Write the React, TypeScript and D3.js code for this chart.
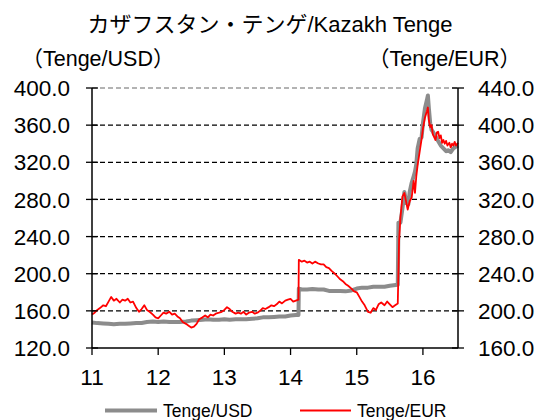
import React from "react";
import * as d3 from "d3";

const titleText = "カザフスタン・テンゲ/Kazakh Tenge";
const leftUnit = "（Tenge/USD）";
const rightUnit = "（Tenge/EUR）";
const xTickValues = [2011, 2012, 2013, 2014, 2015, 2016];
const xTickLabels = ["11", "12", "13", "14", "15", "16"];
const leftTicks = [120, 160, 200, 240, 280, 320, 360, 400];
const rightTicks = [160, 200, 240, 280, 320, 360, 400, 440];
const seriesNames = ["Tenge/USD", "Tenge/EUR"];

const usdDates = [
  2011.0, 2011.08, 2011.17, 2011.25, 2011.33, 2011.42, 2011.5, 2011.58, 2011.67, 2011.75, 2011.83, 2011.92,
  2012.0, 2012.08, 2012.17, 2012.25, 2012.33, 2012.42, 2012.5, 2012.58, 2012.67, 2012.75, 2012.83, 2012.92,
  2013.0, 2013.08, 2013.17, 2013.25, 2013.33, 2013.42, 2013.5, 2013.58, 2013.67, 2013.75, 2013.83, 2013.92,
  2014.0, 2014.08, 2014.12, 2014.125, 2014.17, 2014.25, 2014.33, 2014.42, 2014.5, 2014.58, 2014.67, 2014.75,
  2014.83, 2014.92, 2015.0, 2015.08, 2015.17, 2015.25, 2015.33, 2015.42, 2015.5, 2015.62, 2015.63, 2015.66,
  2015.69, 2015.72, 2015.75, 2015.78, 2015.8, 2015.83, 2015.86, 2015.88, 2015.9, 2015.92, 2015.95, 2015.98,
  2016.0, 2016.03, 2016.06, 2016.075, 2016.09, 2016.11, 2016.13, 2016.15, 2016.19, 2016.23, 2016.27, 2016.31,
  2016.35, 2016.38, 2016.42, 2016.46, 2016.5, 2016.53,
];
const usdValues = [
  147.5, 146.8, 146.5, 146, 145.5, 146, 146, 146.5, 147, 147, 148, 148.5,
  148, 148.5, 148, 148, 148, 148.5, 149.5, 150, 150.5, 151, 150.5, 150.5,
  151, 150.5, 151, 151, 151, 151.5, 152, 153, 153, 153.5, 154, 154,
  155, 155.5, 155.5, 184, 183, 183, 183.5, 183, 183, 181.5, 181.5, 181.5,
  181, 182, 184, 185, 185, 186, 186, 186, 187, 188, 255, 255,
  270, 288, 276, 275, 288, 298, 305, 310, 318, 335, 345, 347,
  362, 378, 387, 392, 378, 362, 355, 353, 348, 343, 338, 335,
  332, 333, 331, 335, 337, 338,
];

const eurDates = [
  2011.0, 2011.04, 2011.08, 2011.12, 2011.17, 2011.21, 2011.25, 2011.29, 2011.33, 2011.37, 2011.42, 2011.46,
  2011.5, 2011.54, 2011.58, 2011.62, 2011.67, 2011.71, 2011.75, 2011.79, 2011.83, 2011.87, 2011.92, 2011.96,
  2012.0, 2012.04, 2012.08, 2012.12, 2012.17, 2012.21, 2012.25, 2012.29, 2012.33, 2012.37, 2012.42, 2012.46,
  2012.5, 2012.54, 2012.58, 2012.62, 2012.67, 2012.71, 2012.75, 2012.79, 2012.83, 2012.87, 2012.92, 2012.96,
  2013.0, 2013.04, 2013.08, 2013.12, 2013.17, 2013.21, 2013.25, 2013.29, 2013.33, 2013.37, 2013.42, 2013.46,
  2013.5, 2013.54, 2013.58, 2013.62, 2013.67, 2013.71, 2013.75, 2013.79, 2013.83, 2013.87, 2013.92, 2013.96,
  2014.0, 2014.04, 2014.08, 2014.12, 2014.125, 2014.17, 2014.21, 2014.25, 2014.29, 2014.33, 2014.37, 2014.42,
  2014.46, 2014.5, 2014.54, 2014.58, 2014.62, 2014.67, 2014.71, 2014.75, 2014.79, 2014.83, 2014.87, 2014.92,
  2014.96, 2015.0, 2015.04, 2015.08, 2015.12, 2015.17, 2015.21, 2015.25, 2015.29, 2015.33, 2015.37, 2015.42,
  2015.46, 2015.5, 2015.54, 2015.58, 2015.62, 2015.64, 2015.66, 2015.69, 2015.72, 2015.75, 2015.77, 2015.8,
  2015.83, 2015.86, 2015.88, 2015.9, 2015.92, 2015.95, 2015.98, 2016.0, 2016.03, 2016.06, 2016.075, 2016.09,
  2016.11, 2016.13, 2016.15, 2016.17, 2016.19, 2016.21, 2016.23, 2016.25, 2016.27, 2016.29, 2016.31, 2016.33,
  2016.35, 2016.37, 2016.4, 2016.42, 2016.44, 2016.46, 2016.48, 2016.5, 2016.53,
];
const eurValues = [
  196, 198, 201, 203, 206, 205, 210, 215, 211, 213, 209, 212,
  211, 213, 209, 210, 203, 199, 202, 206, 201, 199, 196, 193,
  192, 195, 198, 197, 199, 196, 197, 194, 192, 188, 186, 184,
  182, 183, 186, 191, 193, 195, 193, 196, 195, 197, 198, 199,
  201, 204, 202, 199, 197, 198, 197, 199, 196, 198, 199, 197,
  198, 200, 203, 202, 204, 206, 205, 207, 210, 208, 211, 212,
  213, 210, 211, 212, 255, 253, 254, 252, 253, 251, 253, 251,
  250, 250, 247, 246, 243, 240, 237, 234, 232, 229, 227, 224,
  221, 220, 215, 210, 206, 199, 198, 203, 201, 207, 209, 206,
  210, 207, 204, 206, 208, 276, 300, 323, 327, 316, 309, 318,
  322, 340, 327, 345, 357, 371, 385, 396, 408, 415, 419, 405,
  398, 400, 390, 387, 384, 392, 393, 386, 389, 381, 384, 380,
  383, 378, 381, 376, 380, 378, 382, 378, 381,
];

const W = 541;
const H = 420;
const X0 = 92;
const X1 = 458;
const YT = 88;
const YB = 348;
const FONT = "'Liberation Sans', Arial, 'Noto Sans CJK JP', sans-serif";

export default function App() {
  const x = d3.scaleLinear().domain([2011, 2016.53]).range([X0, X1]);
  const yL = d3.scaleLinear().domain([120, 400]).range([YB, YT]);
  const yR = d3.scaleLinear().domain([160, 440]).range([YB, YT]);

  const usdPts = usdDates.map((d, i) => [d, usdValues[i]] as [number, number]);
  const eurPts = eurDates.map((d, i) => [d, eurValues[i]] as [number, number]);

  const usdLine = d3
    .line<[number, number]>()
    .x((d) => x(d[0]))
    .y((d) => yL(d[1]));
  const eurLine = d3
    .line<[number, number]>()
    .x((d) => x(d[0]))
    .y((d) => yR(d[1]));

  return (
    <svg
      width={W}
      height={H}
      style={{ position: "absolute", left: 0, top: 0, background: "#fff" }}
      fontFamily={FONT}
    >
      <rect x={0} y={0} width={W} height={H} fill="#fff" />
      <text x={270} y={32} fontSize={22} textAnchor="middle" fill="#000">
        {titleText}
      </text>
      <text x={21.5} y={66} fontSize={21.5} fill="#000">
        {leftUnit}
      </text>
      <text x={521} y={66} fontSize={21.5} textAnchor="end" fill="#000">
        {rightUnit}
      </text>

      {/* gridlines */}
      {leftTicks
        .filter((t) => t > 120)
        .map((t) => (
          <line
            key={"g" + t}
            x1={X0}
            x2={X1}
            y1={yL(t)}
            y2={yL(t)}
            stroke={t === 400 ? "#9a9a9a" : "#000"}
            strokeWidth={1.3}
            strokeDasharray="5,3"
          />
        ))}

      {/* series */}
      <path
        d={usdLine(usdPts) || ""}
        fill="none"
        stroke="#8c8c8c"
        strokeWidth={4}
        strokeLinejoin="round"
      />
      <path
        d={eurLine(eurPts) || ""}
        fill="none"
        stroke="#ff0000"
        strokeWidth={1.8}
        strokeLinejoin="round"
      />

      {/* axes */}
      <line x1={X0} x2={X0} y1={YT} y2={YB} stroke="#000" strokeWidth={1.5} />
      <line x1={X1} x2={X1} y1={YT} y2={YB} stroke="#000" strokeWidth={1.5} />
      <line x1={X0} x2={X1} y1={YB} y2={YB} stroke="#000" strokeWidth={1.5} />

      {leftTicks.map((t) => (
        <g key={"l" + t}>
          <line x1={X0 - 6} x2={X0 + 6} y1={yL(t)} y2={yL(t)} stroke="#000" strokeWidth={1.3} />
          <text x={70} y={yL(t)} dy="0.36em" fontSize={22.5} textAnchor="end" fill="#000">
            {t.toFixed(1)}
          </text>
        </g>
      ))}
      {rightTicks.map((t) => (
        <g key={"r" + t}>
          <line x1={X1 - 6} x2={X1 + 6} y1={yR(t)} y2={yR(t)} stroke="#000" strokeWidth={1.3} />
          <text x={478} y={yR(t)} dy="0.36em" fontSize={22.5} textAnchor="start" fill="#000">
            {t.toFixed(1)}
          </text>
        </g>
      ))}
      {xTickValues.map((t, i) => (
        <g key={"x" + t}>
          <line x1={x(t)} x2={x(t)} y1={YB} y2={YB + 7} stroke="#000" strokeWidth={1.3} />
          <text x={x(t)} y={385} fontSize={22.5} textAnchor="middle" fill="#000">
            {xTickLabels[i]}
          </text>
        </g>
      ))}

      {/* legend */}
      <line x1={105} x2={157} y1={410.5} y2={410.5} stroke="#8c8c8c" strokeWidth={4} />
      <text x={163} y={416.5} fontSize={17.5} fill="#000">
        {seriesNames[0]}
      </text>
      <line x1={300} x2={351} y1={410.5} y2={410.5} stroke="#ff0000" strokeWidth={1.8} />
      <text x={357} y={416.5} fontSize={17.5} fill="#000">
        {seriesNames[1]}
      </text>
    </svg>
  );
}
